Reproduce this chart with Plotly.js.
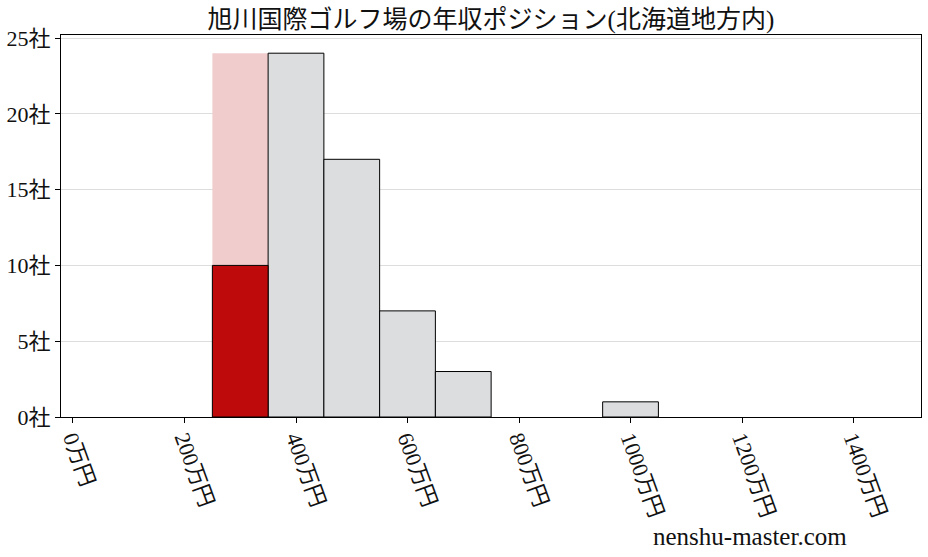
<!DOCTYPE html>
<html>
<head>
<meta charset="utf-8">
<script src="https://cdn.plot.ly/plotly-3.0.1.min.js"></script>
<style>html,body{margin:0;padding:0;background:#fff;}#chart{width:928px;height:557px;}</style>
</head>
<body>
<div id="chart"></div>
<script>
const titleText = "旭川国際ゴルフ場の年収ポジション(北海道地方内)";
const otherBinCenters = [400, 500, 600, 700, 1000];
const otherCounts = [24, 17, 7, 3, 1];
const ownBinCenter = [300];
const ownBinTotal = [24];
const ownCount = [10];
const binWidth = 100;
const xTickVals = [0, 200, 400, 600, 800, 1000, 1200, 1400];
const xTickText = ["0万円", "200万円", "400万円", "600万円", "800万円", "1000万円", "1200万円", "1400万円"];
const yTickVals = [0, 5, 10, 15, 20, 25];
const yTickText = ["0社", "5社", "10社", "15社", "20社", "25社"];
const watermark = "nenshu-master.com";

const FONT = "'Liberation Serif', 'Noto Sans CJK JP', serif";

const traces = [
  {
    type: "bar", x: ownBinCenter, y: ownBinTotal, width: ownBinCenter.map(() => binWidth),
    marker: {color: "#F0CCCD", line: {width: 0}}, hoverinfo: "skip"
  },
  {
    type: "bar", x: otherBinCenters, y: otherCounts, width: otherBinCenters.map(() => binWidth),
    marker: {color: "#DCDDDF", line: {color: "#000", width: 1}}
  },
  {
    type: "bar", x: ownBinCenter, y: ownCount, width: ownBinCenter.map(() => binWidth),
    marker: {color: "#BE0A0A", line: {color: "#000", width: 1}}
  }
];

const layout = {
  width: 928, height: 557,
  margin: {l: 61, r: 7, t: 35, b: 140},
  paper_bgcolor: "#fff", plot_bgcolor: "#fff",
  barmode: "overlay",
  showlegend: false,
  font: {family: FONT, color: "#111"},
  title: {text: titleText, font: {family: FONT, size: 25, color: "#111"}, x: 0.529, xanchor: "center", y: 0.965, yanchor: "middle"},
  xaxis: {
    range: [-21.5, 1521], tickvals: xTickVals, ticktext: xTickText, tickangle: 70,
    showgrid: false, zeroline: false, showline: true, linecolor: "#000", linewidth: 1, mirror: true,
    ticks: "outside", ticklen: 5, tickcolor: "#000", tickfont: {family: FONT, size: 22, color: "#111"},
    ticklabelstandoff: -6
  },
  yaxis: {
    range: [0, 25.2], tickvals: yTickVals, ticktext: yTickText,
    showgrid: true, gridcolor: "#DDDDDD", gridwidth: 1, zeroline: false,
    showline: true, linecolor: "#000", linewidth: 1, mirror: true,
    ticks: "outside", ticklen: 5, tickcolor: "#000", tickfont: {family: FONT, size: 22, color: "#111"}
  },
  annotations: [{
    text: watermark, xref: "paper", yref: "paper", x: 0.801, y: -0.314, xanchor: "center", yanchor: "middle",
    showarrow: false, font: {family: FONT, size: 25, color: "#111"}
  }]
};

Plotly.newPlot("chart", traces, layout, {displayModeBar: false, staticPlot: true});
</script>
</body>
</html>
